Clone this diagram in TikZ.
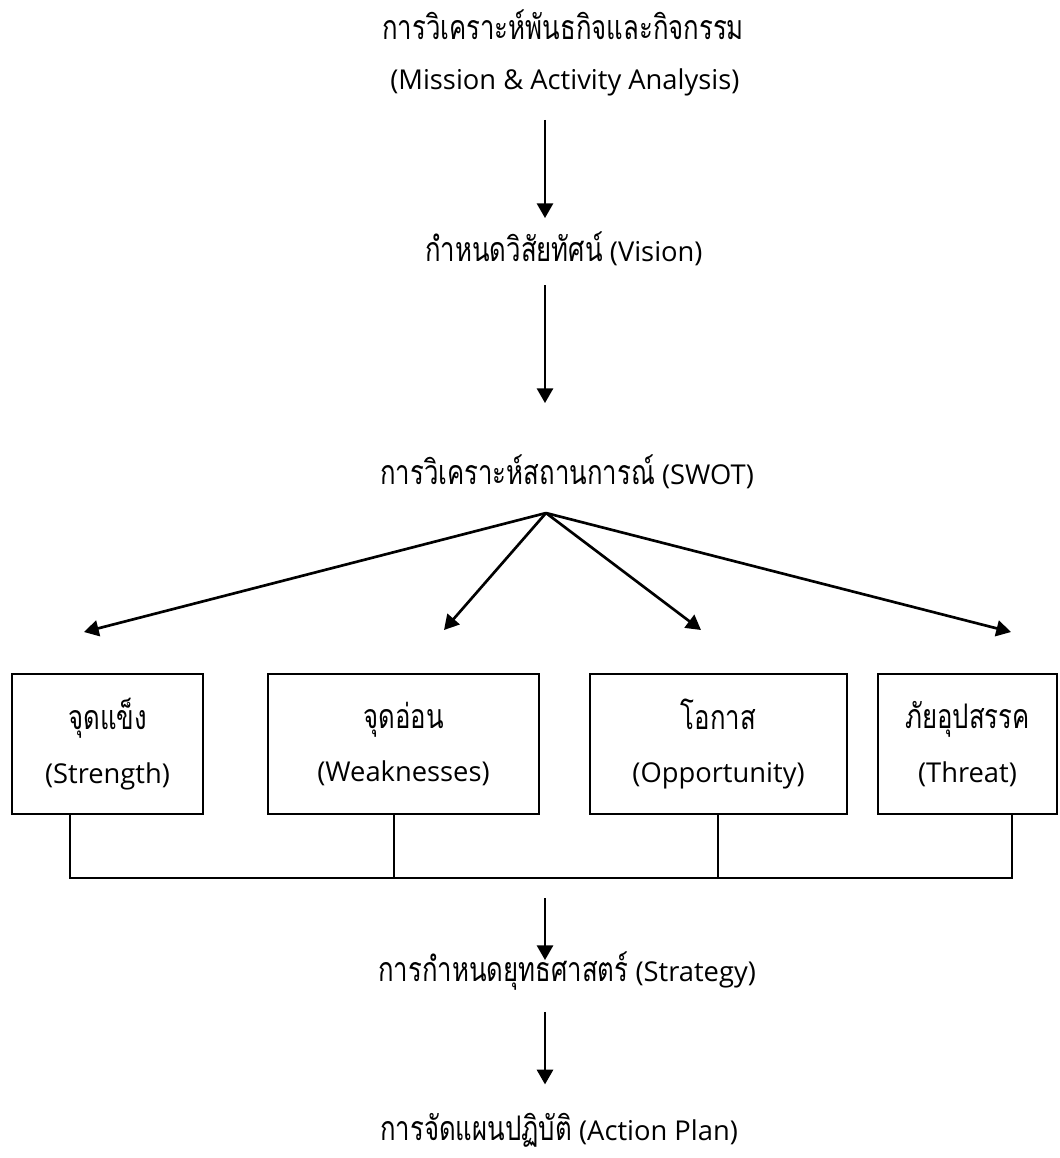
\documentclass[tikz,border=0pt]{standalone}
\usepackage{fontspec}
\setmainfont{Open Sans}
\newfontfamily\thaif[Script=Thai,FakeStretch=0.76,Scale=1.24]{Loma}
\usetikzlibrary{arrows.meta}
\begin{document}
\begin{tikzpicture}[x=0.75pt,y=-0.75pt,
  lbl/.style={anchor=west, inner sep=0pt, text height=16pt, text depth=6pt, font=\fontsize{20.5}{40}\selectfont},
  box/.style={draw, line width=1.6pt, minimum width=#1, minimum height=105pt, align=center, inner sep=0pt, font=\fontsize{20.5}{40}\selectfont},
  arr/.style={line width=2pt, -{Triangle[length=11pt,width=12pt]}},
  link/.style={line width=1.4pt}]
\useasboundingbox (0,0) rectangle (1060,1158);
\node[lbl] (top1) at (382,33) {\thaif การวิเคราะห์พันธกิจและกิจกรรม};
\node[lbl] (top2) at (390,83) {(Mission \& Activity Analysis)};
\node[lbl] (vision) at (425,255) {{\thaif กำหนดวิสัยทัศน์} (Vision)};
\node[lbl] (swot) at (380,478) {{\thaif การวิเคราะห์สถานการณ์} (SWOT)};
\node[box=143.25pt] (s) at (107.5,744) {{\thaif จุดแข็ง}\\(Strength)};
\node[box=203.25pt] (w) at (403.5,744) {{\thaif จุดอ่อน}\\(Weaknesses)};
\node[box=192.75pt] (o) at (718.5,744) {{\thaif โอกาส}\\(Opportunity)};
\node[box=134.25pt] (t) at (967.5,744) {{\thaif ภัยอุปสรรค}\\(Threat)};
\node[lbl] (strat) at (378,975) {{\thaif การกำหนดยุทธศาสตร์} (Strategy)};
\node[lbl] (plan) at (380,1134) {{\thaif การจัดแผนปฏิบัติ} (Action Plan)};
\coordinate (apex) at (546,513);
\coordinate (ts) at (84,632);
\coordinate (tw) at (444,630);
\coordinate (to) at (701,630);
\coordinate (tt) at (1011,632);
\coordinate (js) at (70,878);
\coordinate (jw) at (394,878);
\coordinate (jo) at (718,878);
\coordinate (jt) at (1012,878);
\coordinate (jm) at (545,878);
\draw[arr, shorten <=16.5pt, shorten >=16.5pt] (top2.south -| jm) -- (vision.north -| jm);
\draw[arr, shorten <=11.5pt, shorten >=45pt] (vision.south -| jm) -- (swot.north -| jm);
\draw[arr] (apex) -- (ts);
\draw[arr] (apex) -- (tw);
\draw[arr] (apex) -- (to);
\draw[arr] (apex) -- (tt);
\draw[link] (s.south -| js) -- (js) -- (jt) -- (t.south -| jt);
\draw[link] (w.south -| jw) -- (jw);
\draw[link] (o.south -| jo) -- (jo);
\draw[arr, shorten <=15pt] (jm) -- (strat.north -| jm);
\draw[arr, shorten <=16.5pt, shorten >=26pt] (strat.south -| jm) -- (plan.north -| jm);
\end{tikzpicture}
\end{document}
